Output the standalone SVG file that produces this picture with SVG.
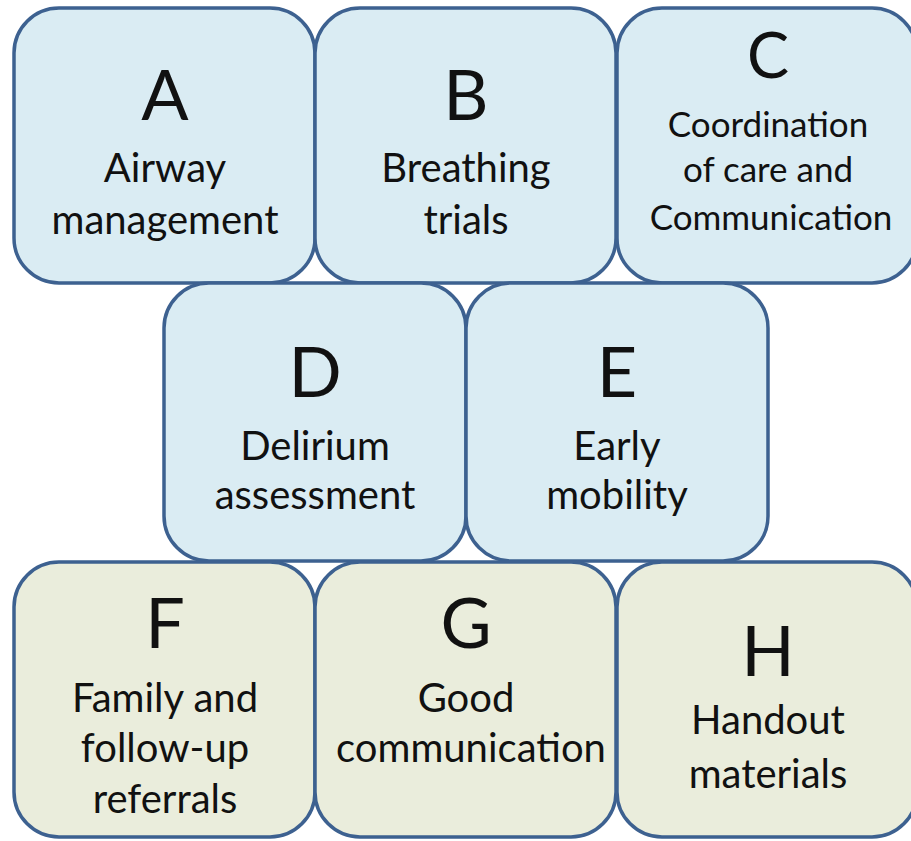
<svg xmlns="http://www.w3.org/2000/svg" width="911" height="841" viewBox="0 0 911 841">
<style>
.box{stroke:#3d6190;stroke-width:3.5}
.blue{fill:#daecf3}
.green{fill:#eaeddc}
text{font-family:Lato,"Open Sans","Liberation Sans",sans-serif;fill:#111;text-anchor:middle}
.big{font-size:70px}
.lbl{font-size:40px}
.bigc{font-size:63px}
.lblc{font-size:35px}
</style>
<rect width="911" height="841" fill="#ffffff"/>
<g id="node-A">
<rect class="box blue" x="14" y="8" width="301" height="275" rx="45"/>
<text class="big" x="165" y="120">A</text>
<text class="lbl" x="165" y="182">Airway</text>
<text class="lbl" x="165" y="234">management</text>
</g>
<g id="node-B">
<rect class="box blue" x="315" y="8" width="301" height="275" rx="45"/>
<text class="big" x="466" y="120">B</text>
<text class="lbl" x="466" y="182">Breathing</text>
<text class="lbl" x="466" y="234">trials</text>
</g>
<g id="node-C">
<rect class="box blue" x="617" y="8" width="300" height="275" rx="45"/>
<text class="bigc" x="768" y="78">C</text>
<text class="lblc" x="768" y="137">Coordination</text>
<text class="lblc" x="768" y="182">of care and</text>
<text class="lblc" x="771" y="230">Communication</text>
</g>
<g id="node-D">
<rect class="box blue" x="164" y="283" width="302" height="278" rx="45"/>
<text class="big" x="315" y="397">D</text>
<text class="lbl" x="315" y="460">Delirium</text>
<text class="lbl" x="315" y="509">assessment</text>
</g>
<g id="node-E">
<rect class="box blue" x="466" y="283" width="302" height="278" rx="45"/>
<text class="big" x="617" y="397">E</text>
<text class="lbl" x="617" y="460">Early</text>
<text class="lbl" x="617" y="509">mobility</text>
</g>
<g id="node-F">
<rect class="box green" x="14" y="562" width="301" height="275" rx="45"/>
<text class="big" x="165" y="648">F</text>
<text class="lbl" x="165" y="712">Family and</text>
<text class="lbl" x="165" y="762">follow-up</text>
<text class="lbl" x="165" y="813">referrals</text>
</g>
<g id="node-G">
<rect class="box green" x="315" y="562" width="301" height="275" rx="45"/>
<text class="big" x="466" y="648">G</text>
<text class="lbl" x="466" y="712">Good</text>
<text class="lbl" x="471" y="762">communication</text>
</g>
<g id="node-H">
<rect class="box green" x="617" y="562" width="300" height="275" rx="45"/>
<text class="big" x="768" y="676">H</text>
<text class="lbl" x="768" y="734">Handout</text>
<text class="lbl" x="768" y="788">materials</text>
</g>
<g id="connectors"/>
</svg>
